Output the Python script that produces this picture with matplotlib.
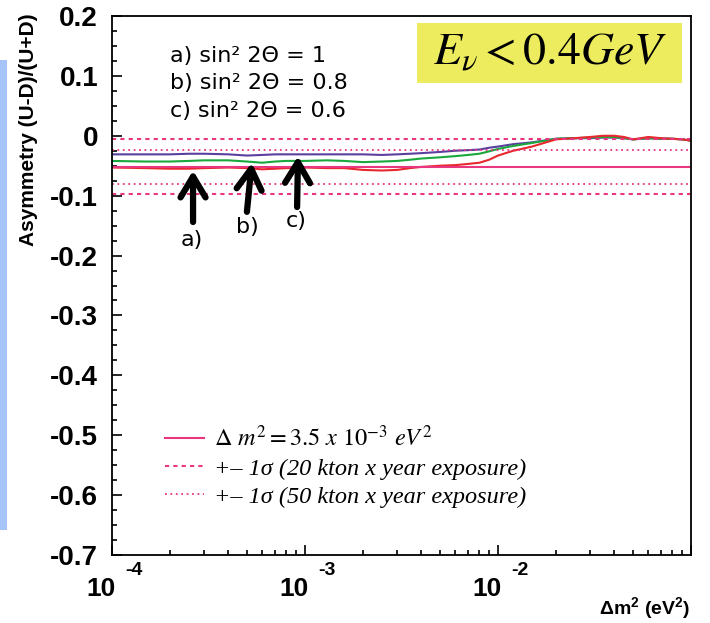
import matplotlib
matplotlib.use("Agg")
import matplotlib.pyplot as plt
import matplotlib.transforms as mtransforms
from matplotlib.patches import Rectangle
from matplotlib.font_manager import FontProperties
from matplotlib.ticker import MultipleLocator, LogLocator, NullFormatter

plt.rcParams['mathtext.fontset'] = 'custom'
plt.rcParams['mathtext.rm'] = 'Liberation Sans:bold'
plt.rcParams['mathtext.it'] = 'Liberation Sans:bold:italic'
plt.rcParams['mathtext.bf'] = 'Liberation Sans:bold'

# delta m^2 (eV^2) sample points
dm2 = [1.0e-4, 1.5e-4, 2e-4, 2.5e-4, 3e-4, 4e-4, 5e-4, 6e-4, 7e-4, 8e-4,
       1e-3, 1.3e-3, 1.6e-3, 2e-3, 2.5e-3, 3e-3, 3.5e-3, 4e-3, 5e-3, 6e-3,
       7e-3, 8e-3, 9e-3, 1e-2, 1.2e-2, 1.5e-2, 2e-2, 2.5e-2, 3e-2, 3.5e-2,
       4e-2, 4.5e-2, 5e-2, 5.5e-2, 6e-2, 7e-2, 8e-2, 9e-2, 1e-1]

# a) sin^2 2theta = 1
asym_a = [-0.053, -0.054, -0.055, -0.055, -0.054, -0.053, -0.054, -0.056, -0.055, -0.054,
          -0.053, -0.054, -0.054, -0.057, -0.058, -0.057, -0.054, -0.052, -0.050, -0.049,
          -0.047, -0.045, -0.040, -0.033, -0.025, -0.018, -0.006, -0.004, -0.002, 0.000,
          0.000, -0.002, -0.006, -0.004, -0.002, -0.004, -0.005, -0.006, -0.008]
# b) sin^2 2theta = 0.8
asym_b = [-0.042, -0.043, -0.043, -0.042, -0.041, -0.041, -0.043, -0.045, -0.043, -0.042,
          -0.042, -0.041, -0.042, -0.044, -0.043, -0.042, -0.040, -0.038, -0.036, -0.034,
          -0.032, -0.030, -0.026, -0.022, -0.017, -0.012, -0.005, -0.004, -0.003, -0.002,
          -0.002, -0.004, -0.006, -0.005, -0.004, -0.005, -0.005, -0.006, -0.008]
# c) sin^2 2theta = 0.6
asym_c = [-0.031, -0.031, -0.031, -0.030, -0.030, -0.031, -0.033, -0.032, -0.031, -0.031,
          -0.031, -0.031, -0.031, -0.031, -0.032, -0.031, -0.030, -0.029, -0.027, -0.025,
          -0.024, -0.023, -0.020, -0.018, -0.014, -0.011, -0.005, -0.004, -0.004, -0.003,
          -0.003, -0.004, -0.006, -0.005, -0.004, -0.005, -0.005, -0.006, -0.008]

ref_value = -0.052      # dm2 = 3.5e-3 eV^2
sigma_20kt = 0.046
sigma_50kt = 0.029

mix_labels = ['a) sin² 2Θ = 1', 'b) sin² 2Θ = 0.8', 'c) sin² 2Θ = 0.6']
arrow_tips = [(2.63e-4, -0.058), (5.3e-4, -0.045), (9.2e-4, -0.034)]
arrow_tails = [(2.63e-4, -0.144), (5.0e-4, -0.127), (9.1e-4, -0.119)]
arrow_text = [('a)', 2.6e-4, -0.174), ('b)', 5.0e-4, -0.152), ('c)', 9.0e-4, -0.142)]
decades = [1e-4, 1e-3, 1e-2]
decade_exp = ['-4', '-3', '-2']

pink = '#E8367F'
fig = plt.figure(figsize=(7.10, 6.23), dpi=100)
ax = fig.add_axes([112 / 710, 1 - 555 / 623, 579 / 710, 539 / 623])

ax.plot(dm2, asym_c, color='#5B3F9E', lw=1.5)
ax.plot(dm2, asym_b, color='#1AA83C', lw=1.5)
ax.plot(dm2, asym_a, color='#E8282E', lw=1.5)
ax.axhline(ref_value, color=pink, lw=1.5, label=r'$\Delta\ m^2 = 3.5\ x\ 10^{\mathit{-3}}\ eV^2$')
ax.axhline(ref_value + sigma_20kt, color=pink, lw=1.5, ls=(0, (2, 2)),
           label='+– 1σ (20 kton x year exposure)')
ax.axhline(ref_value - sigma_20kt, color=pink, lw=1.5, ls=(0, (2, 2)))
ax.axhline(ref_value + sigma_50kt, color=pink, lw=1.3, ls=(0, (1, 2)),
           label='+– 1σ (50 kton x year exposure)')
ax.axhline(ref_value - sigma_50kt, color=pink, lw=1.3, ls=(0, (1, 2)))

ax.set_xscale('log')
ax.set_xlim(1e-4, 1e-1)
ax.set_ylim(-0.7, 0.2)
ax.yaxis.set_minor_locator(MultipleLocator(0.025))
ax.xaxis.set_major_locator(LogLocator(base=10))
ax.xaxis.set_minor_locator(LogLocator(base=10, subs=range(2, 10)))
ax.xaxis.set_major_formatter(NullFormatter())
ax.xaxis.set_minor_formatter(NullFormatter())
ax.tick_params(which='both', direction='in', top=False, right=False, width=1.2)
ax.tick_params(which='major', length=7.5)
ax.tick_params(which='minor', length=3.8)
ax.tick_params(axis='y', pad=10)
ax.set_yticks([0.2, 0.1, 0, -0.1, -0.2, -0.3, -0.4, -0.5, -0.6, -0.7])
ax.set_yticklabels(['0.2', '0.1', '0', '-0.1', '-0.2', '-0.3', '-0.4', '-0.5', '-0.6', '-0.7'],
                   fontfamily='Liberation Sans', fontweight='bold', fontsize=20)
for s in ax.spines.values():
    s.set_linewidth(1.3)

# x tick labels in ROOT style: "10" with exponent apart
xt = ax.get_xaxis_transform()
for d, e in zip(decades, decade_exp):
    t1 = mtransforms.offset_copy(xt, fig=fig, x=4, y=-41, units='dots')
    ax.text(d, 0, '10', transform=t1, ha='right', va='baseline',
            fontfamily='Liberation Sans', fontweight='bold', fontsize=19)
    t2 = mtransforms.offset_copy(xt, fig=fig, x=13, y=-7, units='dots')
    ax.text(d, 0, e, transform=t2, ha='left', va='top',
            fontfamily='Liberation Sans', fontweight='bold', fontsize=14)

# arrows
for tip, tail in zip(arrow_tips, arrow_tails):
    ax.annotate('', xy=tip, xytext=tail,
                arrowprops=dict(arrowstyle='->,head_length=0.75,head_width=0.45',
                                lw=4.5, color='black', mutation_scale=20,
                                shrinkA=0, shrinkB=0))
for lbl, x, y in arrow_text:
    ax.text(x, y, lbl, ha='center', va='center', fontsize=16, fontfamily='DejaVu Sans')

for i, lbl in enumerate(mix_labels):
    fig.text(170 / 710, 1 - (56 + 27.5 * i) / 623, lbl, ha='left', va='center',
             fontsize=16, fontfamily='DejaVu Sans')

leg_font = FontProperties(family='Liberation Serif', style='italic', size=17.5,
                          math_fontfamily='stix')
ax.legend(loc='upper left', bbox_to_anchor=(165 / 710, 1 - 426 / 623),
          bbox_transform=fig.transFigure, frameon=False, prop=leg_font,
          borderpad=0, borderaxespad=0,
          handlelength=1.6, handletextpad=0.4, labelspacing=0.25)

# energy box
fig.patches.append(Rectangle((417 / 710, 1 - 83 / 623), 265 / 710, 60 / 623,
                             transform=fig.transFigure, facecolor='#ECEC5E',
                             edgecolor='none', zorder=5))
fig.text(550 / 710, 1 - 52 / 623, r'$E_\nu < 0.4GeV$', ha='center', va='center',
         fontsize=33, math_fontfamily='stix', zorder=6)

fig.text(28 / 710, 1 - 13 / 623, 'Asymmetry (U-D)/(U+D)', rotation=90, ha='center',
         va='top', fontsize=15, fontweight='bold', fontfamily='Liberation Sans')
fig.text(690 / 710, 1 - 608 / 623, r'Δm$^2$ (eV$^2$)', ha='right', va='center',
         fontsize=14, fontweight='bold', fontfamily='Liberation Sans')

fig.patches.append(Rectangle((0, 1 - 530 / 623), 7 / 710, 470 / 623,
                             transform=fig.transFigure, facecolor='#A6C4F8',
                             edgecolor='none'))

fig.savefig('out.png', dpi=100)
